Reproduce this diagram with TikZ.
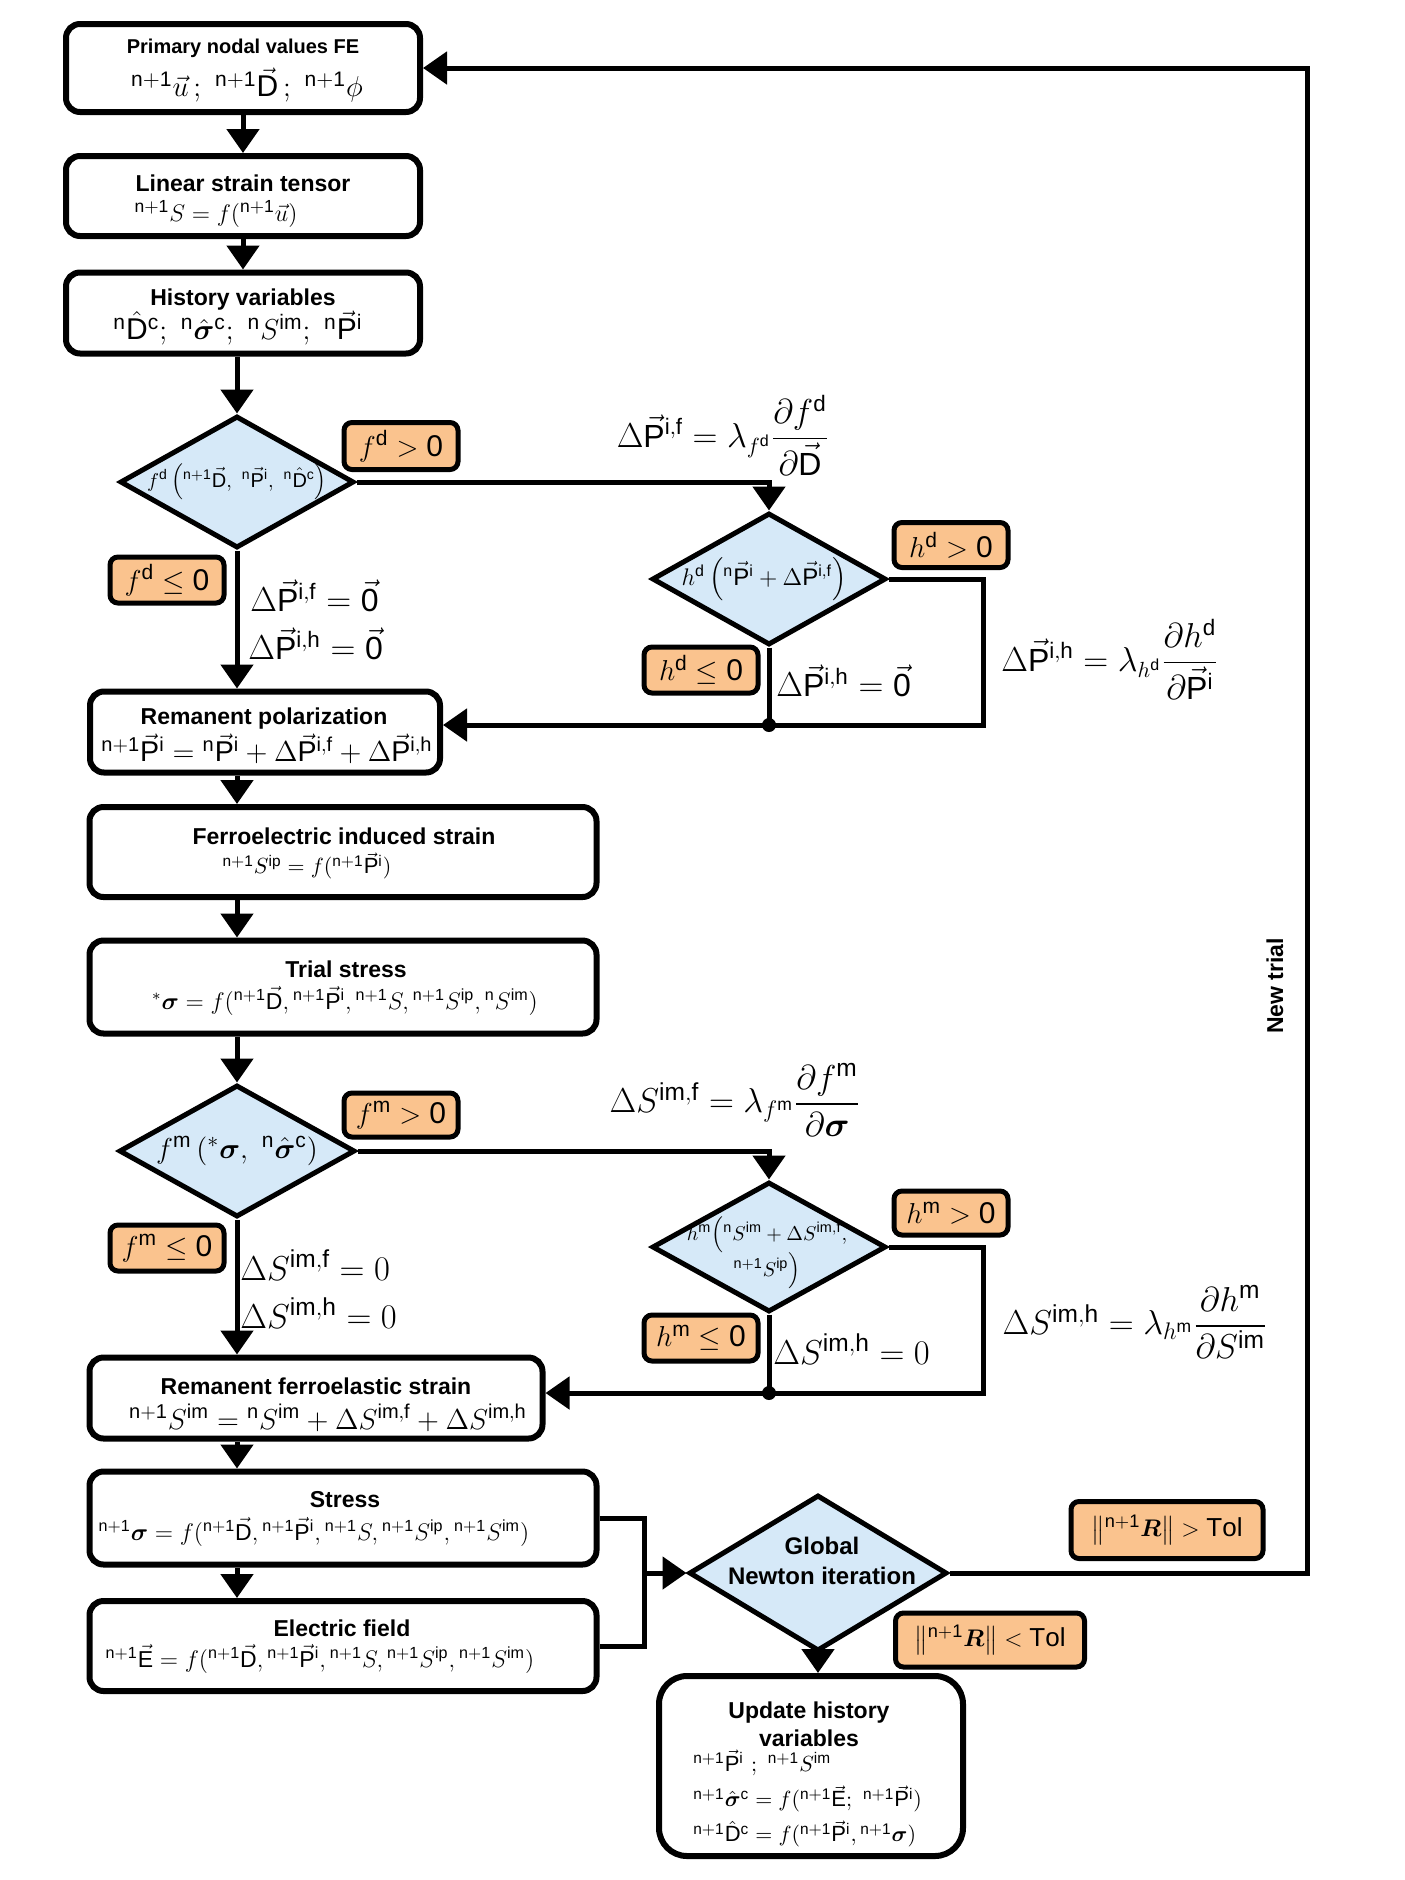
\documentclass[tikz,border=0pt]{standalone}
\usepackage{amsmath}
\usepackage{bm}
\usepackage{fontspec}
\setsansfont{Liberation Sans}
\usetikzlibrary{shapes.geometric,arrows.meta}

\definecolor{diablue}{RGB}{214,233,248}
\definecolor{condorange}{RGB}{250,195,142}

% left superscripts and vector quantities
\newcommand{\lsup}[1]{{}^{\mathsf{#1}}}
\newcommand{\vD}{\vec{\mathsf{D}}}
\newcommand{\vP}{\vec{\mathsf{P}}}
\newcommand{\vE}{\vec{\mathsf{E}}}
\newcommand{\hD}{\hat{\mathsf{D}}}
\newcommand{\sig}{\bm{\sigma}}
\newcommand{\vzero}{\vec{\mathsf{0}}}
\newcommand{\fs}[1]{\fontsize{#1}{#1}\selectfont}

\begin{document}
\begin{tikzpicture}[x=0.5pt,y=-0.5pt,
  box/.style={draw,line width=3pt,rounded corners=7pt,fill=white,inner sep=0pt},
  dia/.style={draw,line width=2.5pt,diamond,fill=diablue,inner sep=0pt},
  cond/.style={draw,line width=2.5pt,rounded corners=4pt,fill=condorange,inner sep=0pt,
               font=\fs{15}},
  conn/.style={line width=2.5pt},
  arr/.style={conn,-{Triangle[width=16pt,length=12pt]}},
  ttl/.style={font=\sffamily\bfseries\fs{11.5},inner sep=0pt},
  fml/.style={font=\fs{12},inner sep=0pt},
  big/.style={font=\fs{16}},
  bigger/.style={font=\fs{17.5}},
]
\useasboundingbox (0,0) rectangle (1404,1880);

% ---- process boxes ----
\node[box,minimum width=177pt,minimum height=44pt] (b1) at (243,68) {};
\node[ttl,font=\sffamily\bfseries\fs{10}] (b1t) at (243,48) {Primary nodal values FE};
\node[fml,font=\fs{15}] (b1f) at (247,85) {$\lsup{n+1}\vec{u}\,;\ \lsup{n+1}\vD\,;\ \lsup{n+1}\phi$};

\node[box,minimum width=177pt,minimum height=40pt] (b2) at (243,196) {};
\node[ttl] (b2t) at (243,183) {Linear strain tensor};
\node[fml,font=\fs{12.5}] (b2f) at (216,214) {$\lsup{n+1}S=f(\lsup{n+1}\vec{u})$};

\node[box,minimum width=177pt,minimum height=40.5pt] (b3) at (243,313) {};
\node[ttl] (b3t) at (243,300) {History variables};
\node[fml,font=\fs{15}] (b3f) at (238,328) {$\lsup{n}\hD^{\mathsf{c}};\ \lsup{n}\hat{\sig}^{\mathsf{c}};\ \lsup{n}S^{\mathsf{im}};\ \lsup{n}\vP^{\mathsf{i}}$};

\node[box,minimum width=175pt,minimum height=40.5pt] (b4) at (265,732) {};
\node[ttl] (b4t) at (264,719) {Remanent polarization};
\node[fml,font=\fs{14.3}] (b4f) at (267,749) {$\lsup{n+1}\vP^{\mathsf{i}}=\lsup{n}\vP^{\mathsf{i}}+\Delta\vP^{\mathsf{i,f}}+\Delta\vP^{\mathsf{i,h}}$};

\node[box,minimum width=253.5pt,minimum height=45pt] (b5) at (343,852) {};
\node[ttl] (b5t) at (344,836) {Ferroelectric induced strain};
\node[fml,font=\fs{11}] (b5f) at (307,866) {$\lsup{n+1}S^{\mathsf{ip}}=f(\lsup{n+1}\vP^{\mathsf{i}})$};

\node[box,minimum width=253.5pt,minimum height=46.5pt] (b6) at (343,987) {};
\node[ttl] (b6t) at (346,969) {Trial stress};
\node[fml,font=\fs{11.5}] (b6f) at (345,1001) {$^{*}\sig=f(\lsup{n+1}\vD,\lsup{n+1}\vP^{\mathsf{i}},\lsup{n+1}S,\lsup{n+1}S^{\mathsf{ip}},\lsup{n}S^{\mathsf{im}})$};

\node[box,minimum width=226.5pt,minimum height=40.5pt] (b7) at (316,1398) {};
\node[ttl] (b7t) at (316,1386) {Remanent ferroelastic strain};
\node[fml,font=\fs{14.3}] (b7f) at (328,1418) {$\lsup{n+1}S^{\mathsf{im}}=\lsup{n}S^{\mathsf{im}}+\Delta S^{\mathsf{im,f}}+\Delta S^{\mathsf{im,h}}$};

\node[box,minimum width=253.5pt,minimum height=46.5pt] (b8) at (343,1518) {};
\node[ttl] (b8t) at (345,1500) {Stress};
\node[fml,font=\fs{11.5}] (b8f) at (314,1532) {$\lsup{n+1}\sig=f(\lsup{n+1}\vD,\lsup{n+1}\vP^{\mathsf{i}},\lsup{n+1}S,\lsup{n+1}S^{\mathsf{ip}},\lsup{n+1}S^{\mathsf{im}})$};

\node[box,minimum width=253.5pt,minimum height=45pt] (b9) at (343,1646) {};
\node[ttl] (b9t) at (342,1628) {Electric field};
\node[fml,font=\fs{11.5}] (b9f) at (320,1659) {$\lsup{n+1}\vE=f(\lsup{n+1}\vD,\lsup{n+1}\vP^{\mathsf{i}},\lsup{n+1}S,\lsup{n+1}S^{\mathsf{ip}},\lsup{n+1}S^{\mathsf{im}})$};

\node[box,minimum width=152pt,minimum height=90pt,rounded corners=14pt] (b10) at (811,1766) {};
\node[ttl,align=center,font=\sffamily\bfseries\fontsize{11.5}{14}\selectfont] (b10t) at (809,1724) {Update history\\variables};
\node[fml,font=\fs{11},anchor=west] (b10a) at (693,1763) {$\lsup{n+1}\vP^{\mathsf{i}}\ ;\ \lsup{n+1}S^{\mathsf{im}}$};
\node[fml,font=\fs{11},anchor=west] (b10b) at (693,1799) {$\lsup{n+1}\hat{\sig}^{\mathsf{c}}=f(\lsup{n+1}\vE;\ \lsup{n+1}\vP^{\mathsf{i}})$};
\node[fml,font=\fs{11},anchor=west] (b10c) at (693,1834) {$\lsup{n+1}\hD^{\mathsf{c}}=f(\lsup{n+1}\vP^{\mathsf{i}},\lsup{n+1}\sig)$};

% ---- decisions ----
\node[dia,minimum width=117pt,minimum height=66pt] (d1) at (237,482) {};
\node[fml,font=\fs{10}] (d1f) at (237,482) {$f^{\mathsf{d}}\left(\lsup{n+1}\vD,\ \lsup{n}\vP^{\mathsf{i}},\ \lsup{n}\hD^{\mathsf{c}}\right)$};

\node[dia,minimum width=117pt,minimum height=66pt] (d2) at (769,579) {};
\node[fml,font=\fs{12}] (d2f) at (764,579) {$h^{\mathsf{d}}\left(\lsup{n}\vP^{\mathsf{i}}+\Delta\vP^{\mathsf{i,f}}\right)$};

\node[dia,minimum width=118pt,minimum height=66pt] (d3) at (237,1151) {};
\node[fml,font=\fs{15}] (d3f) at (237,1151) {$f^{\mathsf{m}}\left({}^{*}\sig,\ \lsup{n}\hat{\sig}^{\mathsf{c}}\right)$};

\node[dia,minimum width=117pt,minimum height=65pt] (d4) at (769,1247) {};
\node[fml,align=center,font=\fontsize{10.3}{12.5}\selectfont] (d4f) at (767,1253) {$h^{\mathsf{m}}\Big(\lsup{n}S^{\mathsf{im}}+\Delta S^{\mathsf{im,f}},$\\[-1pt]$\lsup{n+1}S^{\mathsf{ip}}\Big)$};

\node[dia,minimum width=129pt,minimum height=78pt] (d5) at (818,1573) {};
\node[ttl,align=center,font=\sffamily\bfseries\fontsize{12}{15}\selectfont] (d5t) at (822,1561) {Global\\Newton iteration};

% ---- branch conditions ----
\node[cond,minimum width=57pt,minimum height=23.5pt] (c1) at (401,446) {$f^{\mathsf{d}}>\mathsf{0}$};
\node[cond,minimum width=57pt,minimum height=23pt] (c2) at (167,580) {$f^{\mathsf{d}}\leq \mathsf{0}$};
\node[cond,minimum width=57pt,minimum height=22.5pt] (c3) at (951,545) {$h^{\mathsf{d}}>\mathsf{0}$};
\node[cond,minimum width=57pt,minimum height=23pt] (c4) at (701,670) {$h^{\mathsf{d}}\leq \mathsf{0}$};
\node[cond,minimum width=57pt,minimum height=22pt] (c5) at (401,1115) {$f^{\mathsf{m}}>\mathsf{0}$};
\node[cond,minimum width=57pt,minimum height=23pt] (c6) at (167,1248) {$f^{\mathsf{m}}\leq \mathsf{0}$};
\node[cond,minimum width=57pt,minimum height=22pt] (c7) at (951,1213) {$h^{\mathsf{m}}>\mathsf{0}$};
\node[cond,minimum width=57pt,minimum height=23pt] (c8) at (701,1338) {$h^{\mathsf{m}}\leq \mathsf{0}$};
\node[cond,font=\fs{13},minimum width=96pt,minimum height=28.5pt] (c9) at (1167,1530) {$\left\|\lsup{n+1}\bm{R}\right\|>\mathsf{Tol}$};
\node[cond,font=\fs{13},minimum width=94.5pt,minimum height=27pt] (c10) at (990,1640) {$\left\|\lsup{n+1}\bm{R}\right\|<\mathsf{Tol}$};

% ---- increments ----
\node[fml,big,anchor=west] (a1) at (250,596) {$\Delta\vP^{\mathsf{i,f}}=\vzero$};
\node[fml,big,anchor=west] (a2) at (248,644) {$\Delta\vP^{\mathsf{i,h}}=\vzero$};
\node[fml,big] (a3) at (723,435) {$\Delta\vP^{\mathsf{i,f}}=\lambda_{f^{\mathsf{d}}}\dfrac{\partial f^{\mathsf{d}}}{\partial\vD}$};
\node[fml,big,anchor=west] (a4) at (776,681) {$\Delta\vP^{\mathsf{i,h}}=\vzero$};
\node[fml,big] (a5) at (1110,659) {$\Delta\vP^{\mathsf{i,h}}=\lambda_{h^{\mathsf{d}}}\dfrac{\partial h^{\mathsf{d}}}{\partial\vP^{\mathsf{i}}}$};
\node[fml,bigger,anchor=west] (a6) at (240,1265) {$\Delta S^{\mathsf{im,f}}=0$};
\node[fml,bigger,anchor=west] (a7) at (240,1313) {$\Delta S^{\mathsf{im,h}}=0$};
\node[fml,bigger] (a8) at (735,1100) {$\Delta S^{\mathsf{im,f}}=\lambda_{f^{\mathsf{m}}}\dfrac{\partial f^{\mathsf{m}}}{\partial\sig}$};
\node[fml,bigger,anchor=west] (a9) at (773,1349) {$\Delta S^{\mathsf{im,h}}=0$};
\node[fml,bigger] (a10) at (1135,1322) {$\Delta S^{\mathsf{im,h}}=\lambda_{h^{\mathsf{m}}}\dfrac{\partial h^{\mathsf{m}}}{\partial S^{\mathsf{im}}}$};

\node[ttl,rotate=90] (nt) at (1275,986) {New trial};

% ---- connectors ----
\coordinate (r1) at (983,725);
\coordinate (j1) at (769,725);
\coordinate (r2) at (983,1393);
\coordinate (j2) at (769,1393);
\coordinate (bus) at (644,1573);
\coordinate (loopa) at (1307,1573);
\coordinate (loopb) at (1307,68);

\draw[arr] (b1) -- (b2);
\draw[arr] (b2) -- (b3);
\draw[arr] (b3.south -| d1.north) -- (d1.north);
\draw[arr] (d1.east) -| (d2.north);
\draw[arr] (d1.south) -- (d1.south |- b4.north);
\draw[arr] (d2.east) -| (r1) -- (b4.east |- r1);
\draw[conn] (d2.south) -- (j1);
\fill (j1) circle (3.5pt);
\draw[arr] (b4.south -| d1.south) -- (b5.north -| d1.south);
\draw[arr] (b5.south -| d1.south) -- (b6.north -| d1.south);
\draw[arr] (b6.south -| d3.north) -- (d3.north);
\draw[arr] (d3.east) -| (d4.north);
\draw[arr] (d3.south) -- (d3.south |- b7.north);
\draw[arr] (d4.east) -| (r2) -- (b7.east |- r2);
\draw[conn] (d4.south) -- (j2);
\fill (j2) circle (3.5pt);
\draw[arr] (b7.south -| d3.south) -- (b8.north -| d3.south);
\draw[arr] (b8.south -| d3.south) -- (b9.north -| d3.south);
\draw[conn] (b8.east) -| (bus) |- (b9.east);
\draw[arr] (bus) -- (d5.west);
\draw[arr] (d5.south) -- (d5.south |- b10.north);
\draw[arr] (d5.east) -- (loopa) -- (loopb) -- (b1.east);
\end{tikzpicture}
\end{document}
